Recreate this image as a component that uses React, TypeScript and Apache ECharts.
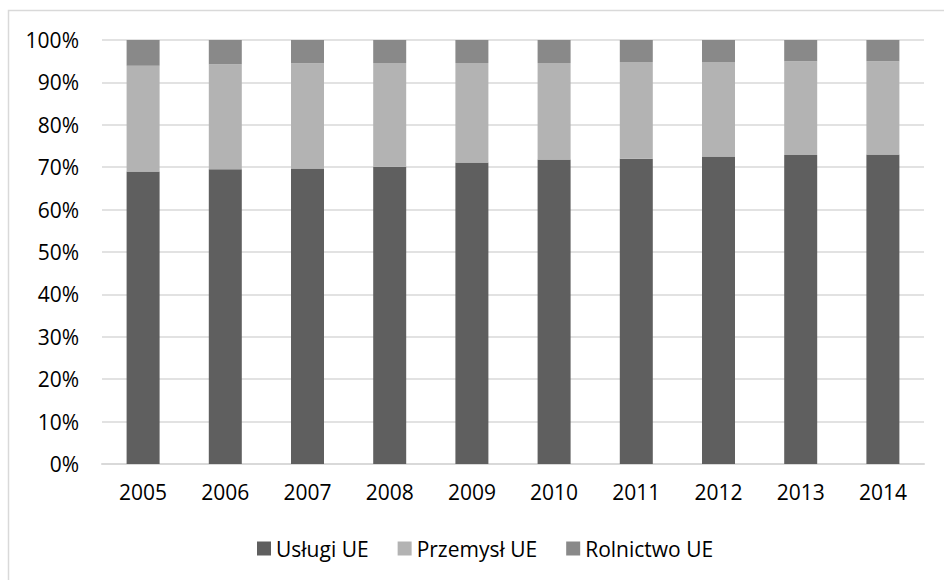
import React, { useEffect, useRef } from "react";
import * as echarts from "echarts";

const years = ["2005", "2006", "2007", "2008", "2009", "2010", "2011", "2012", "2013", "2014"];
const uslugi = [69.0, 69.5, 69.7, 70.1, 71.1, 71.8, 72.0, 72.5, 72.9, 73.0];
const przemysl = [24.9, 24.8, 24.8, 24.5, 23.5, 22.8, 22.8, 22.3, 22.1, 22.0];
const rolnictwo = [6.1, 5.7, 5.5, 5.4, 5.4, 5.4, 5.2, 5.2, 5.0, 5.0];
const seriesNames = ["Usługi UE", "Przemysł UE", "Rolnictwo UE"];
const colors = ["#5f5f5f", "#b3b3b3", "#898989"];

const FONT = "'Open Sans', sans-serif";

export default function App() {
  const ref = useRef<HTMLDivElement>(null);
  useEffect(() => {
    if (!ref.current) return;
    const chart = echarts.init(ref.current, null, { renderer: "svg" });
    const data = [uslugi, przemysl, rolnictwo];
    chart.setOption({
      animation: false,
      backgroundColor: "#ffffff",
      graphic: [
        {
          type: "rect",
          z: -10,
          shape: { x: 8.5, y: 10.5, width: 1200, height: 800 },
          style: { fill: "none", stroke: "#d9d9d9", lineWidth: 1.5 },
        },
      ],
      grid: { left: 102, right: 20, top: 40, bottom: 116 },
      legend: {
        left: 252,
        top: 533,
        icon: "rect",
        itemWidth: 14,
        itemHeight: 14,
        itemGap: 29,
        textStyle: { fontFamily: FONT, fontSize: 21, color: "#000" },
        data: seriesNames,
      },
      xAxis: {
        type: "category",
        data: years,
        axisLine: { lineStyle: { color: "#d9d9d9", width: 2 } },
        axisTick: { show: false },
        axisLabel: { fontFamily: FONT, fontSize: 21, color: "#000", margin: 17 },
      },
      yAxis: {
        type: "value",
        min: 0,
        max: 100,
        interval: 10,
        axisLine: { show: false },
        axisTick: { show: false },
        splitLine: { lineStyle: { color: "#d9d9d9", width: 1.5 } },
        axisLabel: {
          fontFamily: FONT,
          fontSize: 21,
          color: "#000",
          margin: 23,
          formatter: "{value}%",
        },
      },
      series: seriesNames.map((name, i) => ({
        name,
        type: "bar",
        stack: "total",
        barWidth: 33,
        data: data[i],
        itemStyle: { color: colors[i] },
      })),
    });
    return () => chart.dispose();
  }, []);
  return (
    <div style={{ position: "fixed", left: 0, top: 0, width: 944, height: 580, background: "#fff" }}>
      <div ref={ref} style={{ width: 944, height: 580 }} />
    </div>
  );
}
